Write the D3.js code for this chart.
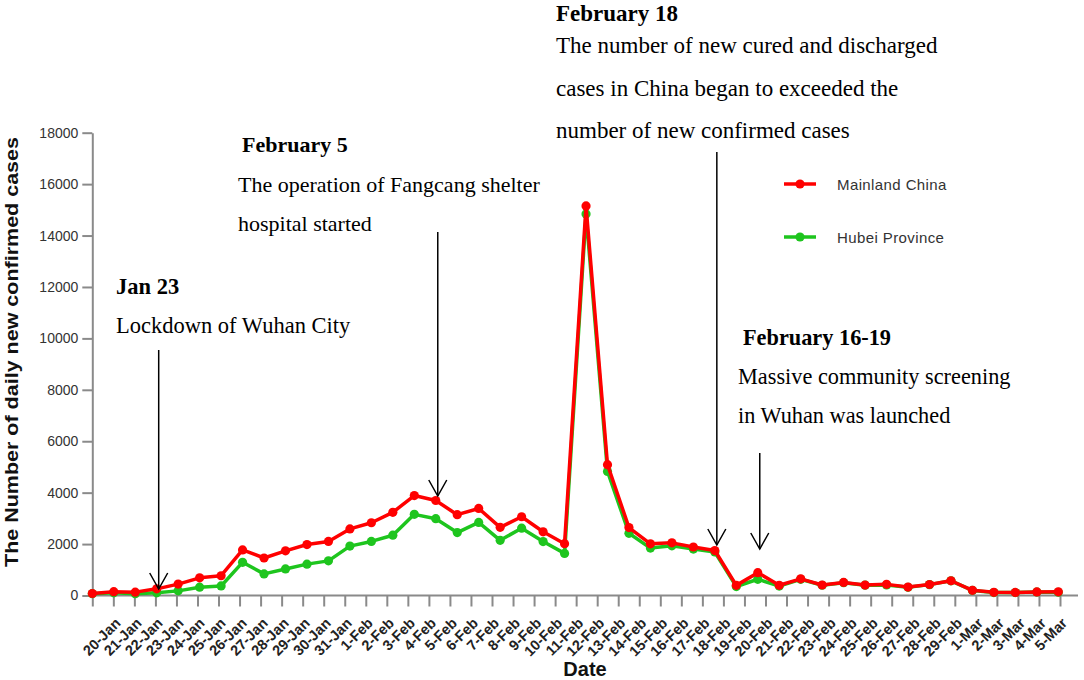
<!DOCTYPE html>
<html><head><meta charset="utf-8">
<script src="https://cdn.jsdelivr.net/npm/d3@7"></script>
<style>body{margin:0;background:#fff}</style>
</head><body><svg id="c" width="1084" height="680"></svg>
<script>
// ---- data ----
const dates = ["20-Jan","21-Jan","22-Jan","23-Jan","24-Jan","25-Jan","26-Jan","27-Jan","28-Jan","29-Jan","30-Jan","31-Jan",
  "1-Feb","2-Feb","3-Feb","4-Feb","5-Feb","6-Feb","7-Feb","8-Feb","9-Feb","10-Feb","11-Feb","12-Feb","13-Feb","14-Feb",
  "15-Feb","16-Feb","17-Feb","18-Feb","19-Feb","20-Feb","21-Feb","22-Feb","23-Feb","24-Feb","25-Feb","26-Feb","27-Feb",
  "28-Feb","29-Feb","1-Mar","2-Mar","3-Mar","4-Mar","5-Mar"];
const mainland = [77,149,131,259,444,688,769,1771,1459,1737,1982,2102,
  2590,2829,3235,3887,3694,3143,3385,2652,3062,2478,2015,15152,5090,2641,2009,2048,1886,1749,394,889,397,648,409,508,406,433,327,427,573,
  202,125,119,139,143];
const hubei = [72,105,69,105,180,323,371,1291,840,1032,1220,1347,
  1921,2103,2345,3156,2987,2447,2841,2147,2618,2097,1638,14840,4823,2420,1843,1933,1807,1693,349,631,366,630,398,499,401,409,318,423,570,
  196,114,115,134,126];
const yTicks = [0,2000,4000,6000,8000,10000,12000,14000,16000,18000];
const seriesNames = ["Mainland China","Hubei Province"];

// ---- layout ----
const X0 = 92.3, XP1 = 1058.3, XT1 = 1060, XEND = 1078;
const Y0 = 595.5, Y1 = 132.7;
const RED = "#ff0000", GREEN = "#1ec51e", AX = "#8a8a8a";
const SANS = "'Liberation Sans', Arial, sans-serif";
const SERIF = "'Liberation Serif', 'Times New Roman', serif";

const svg = d3.select("#c");
svg.append("rect").attr("width",1084).attr("height",680).attr("fill","#fff");

const x = d3.scalePoint().domain(dates).range([X0, XP1]);
const xt = d3.scalePoint().domain(["", ...dates]).range([X0, XT1]);
const y = d3.scaleLinear().domain([0, 18000]).range([Y0, Y1]);

// y axis
const gy = svg.append("g").attr("transform", `translate(${X0},0)`)
  .call(d3.axisLeft(y).tickValues(yTicks).tickSize(10).tickSizeOuter(0).tickPadding(4).tickFormat(d3.format("d")));
gy.select(".domain").attr("stroke", AX).attr("stroke-width", 2);
gy.selectAll(".tick line").attr("stroke", AX).attr("stroke-width", 2);
gy.selectAll(".tick text").attr("fill", "#333").style("font-family", SANS).style("font-size", "14px");

// x axis
const gx = svg.append("g").attr("transform", `translate(0,${Y0})`)
  .call(d3.axisBottom(xt).tickSize(11).tickSizeOuter(0));
gx.select(".domain").remove();
gx.selectAll(".tick line").attr("stroke", AX).attr("stroke-width", 2);
gx.selectAll(".tick text")
  .attr("x", 0).attr("y", 0).attr("dy", "0.35em")
  .attr("transform", "translate(4,25) rotate(-45)")
  .attr("text-anchor", "end").attr("fill", "#222")
  .style("font-family", SANS).style("font-size", "14.5px").style("font-weight", "bold");
svg.append("line").attr("x1", X0 - 1).attr("x2", XEND).attr("y1", Y0).attr("y2", Y0)
  .attr("stroke", AX).attr("stroke-width", 2);

// axis titles
svg.append("text").attr("transform", `translate(18,352) rotate(-90)`).attr("text-anchor", "middle")
  .attr("textLength", 430).attr("lengthAdjust", "spacingAndGlyphs")
  .style("font-family", SANS).style("font-size", "18px").style("font-weight", "bold").attr("fill", "#111")
  .text("The Number of daily new confirmed cases");
svg.append("text").attr("x", 585).attr("y", 676).attr("text-anchor", "middle")
  .style("font-family", SANS).style("font-size", "20px").style("font-weight", "bold").attr("fill", "#111")
  .text("Date");

// series
const line = d3.line().x((d, i) => x(dates[i])).y(d => y(d));
function drawSeries(vals, color) {
  svg.append("path").datum(vals).attr("d", line).attr("fill", "none")
    .attr("stroke", color).attr("stroke-width", 3.5).attr("stroke-linejoin", "round");
  svg.append("g").selectAll("circle").data(vals).join("circle")
    .attr("cx", (d, i) => x(dates[i])).attr("cy", d => y(d)).attr("r", 4.6).attr("fill", color);
}
drawSeries(hubei, GREEN);
drawSeries(mainland, RED);

// legend
const legend = [{name: seriesNames[0], color: RED, y: 184}, {name: seriesNames[1], color: GREEN, y: 237}];
legend.forEach(l => {
  svg.append("line").attr("x1", 784).attr("x2", 816).attr("y1", l.y).attr("y2", l.y)
    .attr("stroke", l.color).attr("stroke-width", 3.5);
  svg.append("circle").attr("cx", 800).attr("cy", l.y).attr("r", 4.6).attr("fill", l.color);
  svg.append("text").attr("x", 837).attr("y", l.y + 5.5).attr("fill", "#333")
    .style("font-family", SANS).style("font-size", "15px").style("letter-spacing", "0.4px").text(l.name);
});

// annotations
const notes = [
  {x: 116, size: 22.5, lines: [["Jan 23", 294, true], ["Lockdown of Wuhan City", 333, false]]},
  {x: 238, size: 22, lines: [["February 5", 152, true, 4], ["The operation of Fangcang shelter", 192, false], ["hospital started", 231, false]]},
  {x: 556, size: 23, lines: [["February 18", 21, true], ["The number of new cured and discharged", 53, false],
                   ["cases in China began to exceeded the", 96, false], ["number of new confirmed cases", 138, false]]},
  {x: 738, size: 22.3, lines: [["February 16-19", 345, true, 5], ["Massive community screening", 384, false], ["in Wuhan was launched", 423, false]]}
];
notes.forEach(n => n.lines.forEach(([t, by, bold, dx]) => {
  svg.append("text").attr("x", n.x + (dx || 0)).attr("y", by).attr("fill", "#000")
    .style("font-family", SERIF).style("font-size", n.size + "px").style("font-weight", bold ? "bold" : "normal").text(t);
}));

const arrows = [
  {date: "23-Jan", top: 350, tip: 589},
  {date: "5-Feb", top: 232, tip: 496},
  {date: "18-Feb", top: 152, tip: 545},
  {date: "20-Feb", top: 453, tip: 549}
];
arrows.forEach(a => {
  const ax = x(a.date) + 2;
  svg.append("line").attr("x1", ax).attr("x2", ax).attr("y1", a.top).attr("y2", a.tip)
    .attr("stroke", "#000").attr("stroke-width", 1.5);
  svg.append("path").attr("d", `M${ax - 9},${a.tip - 16}L${ax},${a.tip}L${ax + 9},${a.tip - 16}`)
    .attr("fill", "none").attr("stroke", "#000").attr("stroke-width", 1.5);
});
</script></body></html>
